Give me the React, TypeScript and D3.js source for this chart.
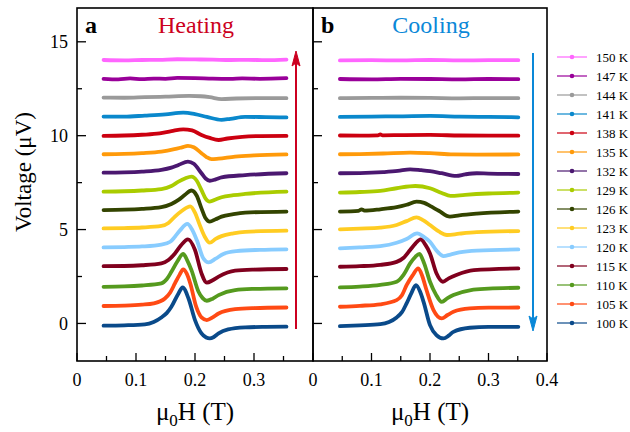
import React from "react";
import * as d3 from "d3";

// ---------- data ----------
const temps = [100, 105, 110, 115, 120, 123, 126, 129, 132, 135, 138, 141, 144, 147, 150];
const offsets = [0, 1, 2, 3, 4, 5, 6, 7, 8, 9, 10, 11, 12, 13, 14];
const colors = [
  "#0a4a8a", "#ff4a14", "#559a1e", "#80001e", "#88ccff", "#ffcc22", "#334400",
  "#aacc00", "#4b1870", "#ff9a0a", "#cc0010", "#0a88cc", "#9a9a9a", "#990099", "#ff66ff",
];
const xTicksA = [0, 0.1, 0.2, 0.3];
const xTicksB = [0, 0.1, 0.2, 0.3, 0.4];
const yTicks = [0, 5, 10, 15];

// Heating (panel a): [μ0H (T), ΔV (μV)]
const h100 = [[0.045,-0.12],[0.08,-0.1],[0.115,-0.05],[0.13,0.08],[0.143,0.32],[0.152,0.55],[0.16,0.89],[0.172,1.6],[0.179,1.92],[0.189,1.33],[0.2,0.18],[0.211,-0.53],[0.219,-0.75],[0.225,-0.8],[0.232,-0.72],[0.24,-0.53],[0.256,-0.32],[0.285,-0.21],[0.32,-0.18],[0.355,-0.17]];
const h105 = [[0.045,-0.07],[0.08,-0.05],[0.11,0.0],[0.13,0.07],[0.149,0.33],[0.158,0.65],[0.166,1.13],[0.174,1.6],[0.18,1.88],[0.186,1.65],[0.192,1.13],[0.202,-0.11],[0.211,-0.68],[0.22,-0.82],[0.23,-0.68],[0.24,-0.47],[0.268,-0.24],[0.3,-0.18],[0.355,-0.15]];
const h110 = [[0.045,-0.05],[0.08,-0.03],[0.11,0.02],[0.143,0.13],[0.152,0.35],[0.16,0.75],[0.17,1.3],[0.18,1.7],[0.187,1.35],[0.194,0.84],[0.206,-0.31],[0.213,-0.65],[0.22,-0.79],[0.23,-0.68],[0.24,-0.49],[0.268,-0.22],[0.3,-0.16],[0.355,-0.13]];
const h115 = [[0.045,0.05],[0.08,0.06],[0.11,0.1],[0.143,0.2],[0.155,0.38],[0.166,0.73],[0.176,1.15],[0.188,1.48],[0.2,0.91],[0.211,-0.33],[0.22,-0.83],[0.23,-0.7],[0.24,-0.51],[0.268,-0.19],[0.3,-0.13],[0.355,-0.1]];
const h120 = [[0.045,0.05],[0.08,0.07],[0.11,0.1],[0.143,0.2],[0.158,0.35],[0.166,0.62],[0.175,0.97],[0.187,1.3],[0.195,1.0],[0.203,0.44],[0.214,-0.53],[0.223,-0.75],[0.235,-0.55],[0.248,-0.3],[0.27,-0.15],[0.31,-0.08],[0.355,-0.05]];
const h123 = [[0.045,0.06],[0.08,0.08],[0.11,0.11],[0.143,0.19],[0.155,0.35],[0.166,0.69],[0.178,1.0],[0.192,1.24],[0.2,0.9],[0.207,0.33],[0.216,-0.35],[0.225,-0.7],[0.235,-0.5],[0.245,-0.35],[0.265,-0.2],[0.285,-0.12],[0.355,-0.06]];
const h126 = [[0.045,0.04],[0.08,0.06],[0.11,0.1],[0.143,0.19],[0.16,0.36],[0.172,0.58],[0.183,0.85],[0.194,1.08],[0.203,0.8],[0.211,0.13],[0.218,-0.4],[0.225,-0.58],[0.235,-0.45],[0.245,-0.31],[0.265,-0.18],[0.285,-0.1],[0.355,-0.04]];
const h129 = [[0.045,0.02],[0.08,0.04],[0.11,0.08],[0.143,0.16],[0.16,0.32],[0.172,0.55],[0.183,0.72],[0.194,0.82],[0.203,0.6],[0.211,0.1],[0.218,-0.35],[0.225,-0.51],[0.235,-0.4],[0.245,-0.28],[0.265,-0.17],[0.285,-0.1],[0.355,0.02]];
const h132 = [[0.045,0.03],[0.08,0.05],[0.11,0.09],[0.143,0.18],[0.16,0.3],[0.172,0.44],[0.188,0.62],[0.198,0.5],[0.211,0.0],[0.218,-0.28],[0.225,-0.4],[0.235,-0.33],[0.245,-0.22],[0.285,-0.1],[0.355,0.0]];
const h135 = [[0.045,0.01],[0.08,0.03],[0.11,0.07],[0.143,0.15],[0.165,0.28],[0.178,0.38],[0.188,0.46],[0.198,0.38],[0.211,0.07],[0.22,-0.15],[0.228,-0.25],[0.24,-0.22],[0.268,-0.11],[0.3,-0.05],[0.355,0.0]];
const h138 = [[0.045,-0.01],[0.08,0.01],[0.11,0.05],[0.14,0.12],[0.16,0.24],[0.18,0.34],[0.195,0.28],[0.211,0.04],[0.225,-0.12],[0.24,-0.23],[0.255,-0.15],[0.28,-0.06],[0.31,-0.02],[0.355,-0.01]];
const h141 = [[0.045,0.02],[0.08,0.01],[0.115,0.07],[0.15,0.14],[0.18,0.23],[0.2,0.15],[0.22,0.0],[0.245,-0.16],[0.26,-0.1],[0.285,0.0],[0.32,-0.01],[0.355,-0.03]];
const h144 = [[0.045,0.03],[0.08,0.02],[0.115,0.05],[0.15,0.08],[0.19,0.12],[0.21,0.1],[0.225,0.05],[0.245,-0.05],[0.27,-0.02],[0.31,0.0],[0.355,0.0]];
const h147 = [[0.045,0.03],[0.07,0.0],[0.09,0.05],[0.11,0.01],[0.13,0.04],[0.15,0.03],[0.17,0.08],[0.2,0.07],[0.23,0.04],[0.26,0.03],[0.28,0.05],[0.31,0.03],[0.355,0.06]];
const h150 = [[0.045,0.03],[0.08,0.01],[0.11,0.03],[0.14,0.04],[0.17,0.07],[0.2,0.06],[0.23,0.05],[0.26,0.03],[0.29,0.04],[0.32,0.02],[0.355,0.05]];

// Cooling (panel b)
const c100 = [[0.046,-0.14],[0.08,-0.1],[0.115,-0.04],[0.13,0.08],[0.143,0.32],[0.152,0.6],[0.16,1.07],[0.168,1.6],[0.176,2.04],[0.183,1.7],[0.189,1.15],[0.2,-0.09],[0.211,-0.62],[0.223,-0.8],[0.232,-0.65],[0.24,-0.45],[0.268,-0.23],[0.3,-0.18],[0.351,-0.18]];
const c105 = [[0.046,-0.11],[0.08,-0.06],[0.115,0.02],[0.143,0.24],[0.152,0.5],[0.16,1.04],[0.17,1.55],[0.18,1.93],[0.187,1.5],[0.194,0.78],[0.206,-0.29],[0.22,-0.73],[0.23,-0.55],[0.24,-0.38],[0.268,-0.2],[0.3,-0.16],[0.351,-0.15]];
const c110 = [[0.046,-0.08],[0.08,-0.04],[0.115,0.05],[0.143,0.22],[0.155,0.6],[0.166,1.2],[0.175,1.55],[0.182,1.7],[0.19,1.2],[0.2,0.22],[0.21,-0.45],[0.22,-0.85],[0.23,-0.65],[0.24,-0.49],[0.27,-0.22],[0.3,-0.15],[0.351,-0.1]];
const c115 = [[0.046,0.02],[0.08,0.05],[0.115,0.12],[0.143,0.28],[0.155,0.5],[0.166,0.91],[0.175,1.25],[0.184,1.48],[0.192,1.2],[0.2,0.73],[0.211,-0.33],[0.222,-0.78],[0.232,-0.6],[0.245,-0.42],[0.275,-0.16],[0.351,-0.07]];
const c120 = [[0.046,0.0],[0.08,0.05],[0.115,0.12],[0.143,0.3],[0.16,0.5],[0.178,0.8],[0.19,0.6],[0.2,0.35],[0.212,-0.15],[0.223,-0.41],[0.235,-0.33],[0.25,-0.22],[0.28,-0.12],[0.351,-0.06]];
const c123 = [[0.046,0.01],[0.08,0.05],[0.115,0.1],[0.143,0.24],[0.16,0.45],[0.177,0.65],[0.188,0.5],[0.2,0.24],[0.215,-0.1],[0.229,-0.29],[0.25,-0.22],[0.28,-0.14],[0.351,-0.08]];
const c126 = [[0.046,-0.04],[0.078,0.0],[0.083,0.08],[0.088,0.01],[0.115,0.08],[0.143,0.19],[0.16,0.32],[0.177,0.49],[0.19,0.42],[0.2,0.26],[0.215,0.0],[0.234,-0.31],[0.25,-0.24],[0.28,-0.15],[0.351,-0.04]];
const c129 = [[0.046,-0.03],[0.08,0.0],[0.115,0.06],[0.143,0.2],[0.175,0.32],[0.2,0.2],[0.22,-0.05],[0.235,-0.21],[0.26,-0.15],[0.3,-0.08],[0.351,-0.03]];
const c132 = [[0.046,0.0],[0.08,0.01],[0.12,0.06],[0.145,0.12],[0.166,0.21],[0.185,0.16],[0.2,0.11],[0.22,0.0],[0.245,-0.14],[0.26,-0.06],[0.28,0.0],[0.3,-0.02],[0.351,-0.04]];
const c135 = [[0.046,0.01],[0.08,0.02],[0.12,0.05],[0.166,0.1],[0.2,0.07],[0.24,0.0],[0.28,-0.01],[0.351,0.0]];
const c138 = [[0.046,0.01],[0.08,0.0],[0.111,0.02],[0.115,0.07],[0.119,0.02],[0.15,0.03],[0.2,0.04],[0.25,0.01],[0.3,0.0],[0.351,0.0]];
const c141 = [[0.046,0.0],[0.1,0.02],[0.15,0.03],[0.2,0.05],[0.25,0.02],[0.3,0.0],[0.351,-0.02]];
const c144 = [[0.046,0.0],[0.1,0.01],[0.15,0.02],[0.2,0.01],[0.25,-0.01],[0.3,0.0],[0.351,0.0]];
const c147 = [[0.046,0.02],[0.1,0.0],[0.15,0.03],[0.2,0.02],[0.25,0.0],[0.3,0.02],[0.351,0.01]];
const c150 = [[0.046,0.01],[0.1,0.02],[0.15,0.01],[0.2,0.03],[0.25,0.01],[0.3,0.02],[0.351,0.02]];

const heating = [h100, h105, h110, h115, h120, h123, h126, h129, h132, h135, h138, h141, h144, h147, h150];
const cooling = [c100, c105, c110, c115, c120, c123, c126, c129, c132, c135, c138, c141, c144, c147, c150];

// ---------- layout ----------
const W = 630, H = 432;
const serif = { fontFamily: "Liberation Serif, serif" };
const xA = d3.scaleLinear().domain([0, 0.4]).range([77, 313]);
const xB = d3.scaleLinear().domain([0, 0.4]).range([313, 547]);
const y = d3.scaleLinear().domain([-2, 16.8]).range([361, 8]);
const yMinor = [2.5, 7.5, 12.5];
const xMinor = [0.05, 0.15, 0.25, 0.35];

function Panel({ x, curves, label, title, titleColor, showLast }: any) {
  const line = (off: number) =>
    d3.line<number[]>().x((d) => x(d[0])).y((d) => y(d[1] + off)).curve(d3.curveMonotoneX);
  const [x0, x1] = x.range();
  const ticks = showLast ? xTicksB : xTicksA;
  return (
    <g>
      {curves.map((c: number[][], i: number) => (
        <path key={i} d={line(offsets[i])(c) || ""} fill="none" stroke={colors[i]}
          strokeWidth={3.8} strokeLinejoin="round" strokeLinecap="round" />
      ))}
      {yTicks.map((t) => (
        <line key={"y" + t} x1={x0} x2={x0 + 9} y1={y(t)} y2={y(t)} stroke="#000" strokeWidth={1.3} />
      ))}
      {yMinor.map((t) => (
        <line key={"ym" + t} x1={x0} x2={x0 + 5} y1={y(t)} y2={y(t)} stroke="#000" strokeWidth={1.3} />
      ))}
      {ticks.map((t) => (
        <line key={"x" + t} x1={x(t)} x2={x(t)} y1={361} y2={353} stroke="#000" strokeWidth={1.3} />
      ))}
      {xMinor.map((t) => (
        <line key={"xm" + t} x1={x(t)} x2={x(t)} y1={361} y2={356} stroke="#000" strokeWidth={1.3} />
      ))}
      {ticks.map((t) => (
        <text key={"xl" + t} x={x(t)} y={386} textAnchor="middle" fontSize={18} style={serif}>
          {String(t)}
        </text>
      ))}
      <rect x={x0} y={8} width={x1 - x0} height={353} fill="none" stroke="#000" strokeWidth={1.6} />
      <text x={x0 + 8} y={33} fontSize={24} fontWeight="bold" style={serif}>{label}</text>
      <text x={(x0 + x1) / 2 + 1} y={33} textAnchor="middle" fontSize={24} fill={titleColor} style={serif}>{title}</text>
      <text x={(x0 + x1) / 2} y={420} textAnchor="middle" fontSize={25} style={serif}>
        μ<tspan fontSize={17} dy={6}>0</tspan><tspan dy={-6}>H (T)</tspan>
      </text>
    </g>
  );
}

export default function App() {
  const legendY = d3.scaleLinear().domain([14, 0]).range([57, 323]);
  return (
    <svg width={W} height={H} style={{ position: "absolute", left: 0, top: 0, background: "#fff" }}>
      <rect width={W} height={H} fill="#fff" />
      <Panel x={xA} curves={heating} label="a" title="Heating" titleColor="#cc0020" showLast={false} />
      <Panel x={xB} curves={cooling} label="b" title="Cooling" titleColor="#0a88d8" showLast={true} />
      {yTicks.map((t) => (
        <text key={t} x={68} y={y(t)} dy="0.35em" textAnchor="end" fontSize={18} style={serif}>{t}</text>
      ))}
      <text transform={`translate(31,${172}) rotate(-90)`} textAnchor="middle" fontSize={23} style={serif}>
        Voltage (μV)
      </text>
      <line x1={296} x2={296} y1={329} y2={60} stroke="#cc0020" strokeWidth={2} />
      <path d="M296,51 L292,66 L296,63 L300,66 Z" fill="#cc0020" stroke="#cc0020" strokeWidth={1} />
      <line x1={533} x2={533} y1={53} y2={322} stroke="#0a88d8" strokeWidth={2} />
      <path d="M533,331 L529,316 L533,319 L537,316 Z" fill="#0a88d8" stroke="#0a88d8" strokeWidth={1} />
      {temps.map((t, i) => (
        <g key={t}>
          <line x1={557} x2={587} y1={legendY(i)} y2={legendY(i)} stroke={colors[i]} strokeOpacity={0.6} strokeWidth={2} />
          <circle cx={572} cy={legendY(i)} r={2.3} fill={colors[i]} />
          <text x={596} y={legendY(i)} dy="0.35em" fontSize={13} style={serif}>{t} K</text>
        </g>
      ))}
    </svg>
  );
}
